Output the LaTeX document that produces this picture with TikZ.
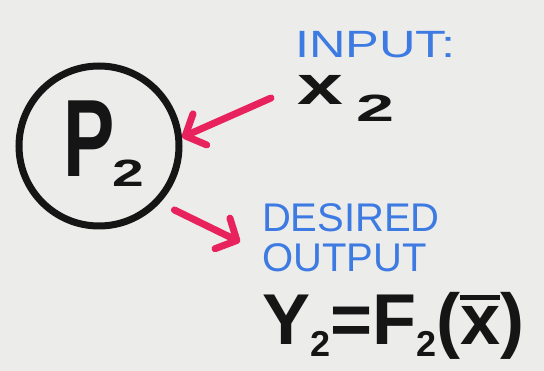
\documentclass[tikz,border=0pt]{standalone}
\usepackage{fontspec}
\setmainfont{Liberation Sans}
\usetikzlibrary{arrows.meta}
\definecolor{bgcol}{HTML}{ECECEB}
\definecolor{ink}{HTML}{151515}
\definecolor{bluemark}{HTML}{3D7BE2}
\definecolor{redmark}{HTML}{E8225C}
\tikzset{
  blacktext/.style={inner sep=0pt,outer sep=0pt,text=ink,font=\bfseries},
  bluetext/.style={inner sep=0pt,outer sep=0pt,text=bluemark},
  ringnode/.style={circle,draw=ink,line width=7pt,minimum size=160pt,inner sep=0pt},
  redarrow/.style={draw=redmark,line width=7pt,line cap=round,
    -{Straight Barb[length=16pt,width=34pt,line width=7pt,round]}}
}
\begin{document}
\begin{tikzpicture}[x=1pt,y=-1pt]
\fill[bgcol] (0,0) rectangle (544,371);
\useasboundingbox (0,0) rectangle (544,371);
% process circle
\node[ringnode] (p) at (99,146) {};
\node[blacktext,anchor=base west] (plbl) at (63,177)
  {\scalebox{0.7}[1]{\fontsize{110}{110}\selectfont P}\hspace{-2pt}\raisebox{-10pt}{\scalebox{1.5}[1]{\fontsize{38}{38}\selectfont 2}}};
% input
\node[bluetext,anchor=base west] (inlbl) at (295,58)
  {\scalebox{1.33}[1]{\fontsize{38}{38}\selectfont INPUT:}};
\node[blacktext,anchor=base west] (xin) at (297,105)
  {\scalebox{1.5}[1]{\fontsize{55}{55}\selectfont x}\hspace{14pt}\raisebox{-17pt}{\scalebox{1.8}[1]{\fontsize{38}{38}\selectfont 2}}};
% output
\node[bluetext,anchor=base west] (des) at (262,232)
  {\fontsize{40}{40}\selectfont DESIRED};
\node[bluetext,anchor=base west] (outlbl) at (262,272)
  {\fontsize{40}{40}\selectfont OUTPUT};
\node[blacktext,anchor=base west] (eq) at (262,345)
  {\fontsize{72}{72}\selectfont Y\raisebox{-12pt}{\fontsize{36}{36}\selectfont 2}=F\raisebox{-12pt}{\fontsize{36}{36}\selectfont 2}(\makebox[0pt][l]{\rule[0.62em]{0.55em}{0.08em}}x)};
% connectors
\coordinate (a1s) at (271,98);
\coordinate (a2e) at (240,242);
\draw[redarrow] (a1s) -- (p.6);
\draw[redarrow,shorten <=16pt] (p.-43) -- (a2e);
\end{tikzpicture}
\end{document}
